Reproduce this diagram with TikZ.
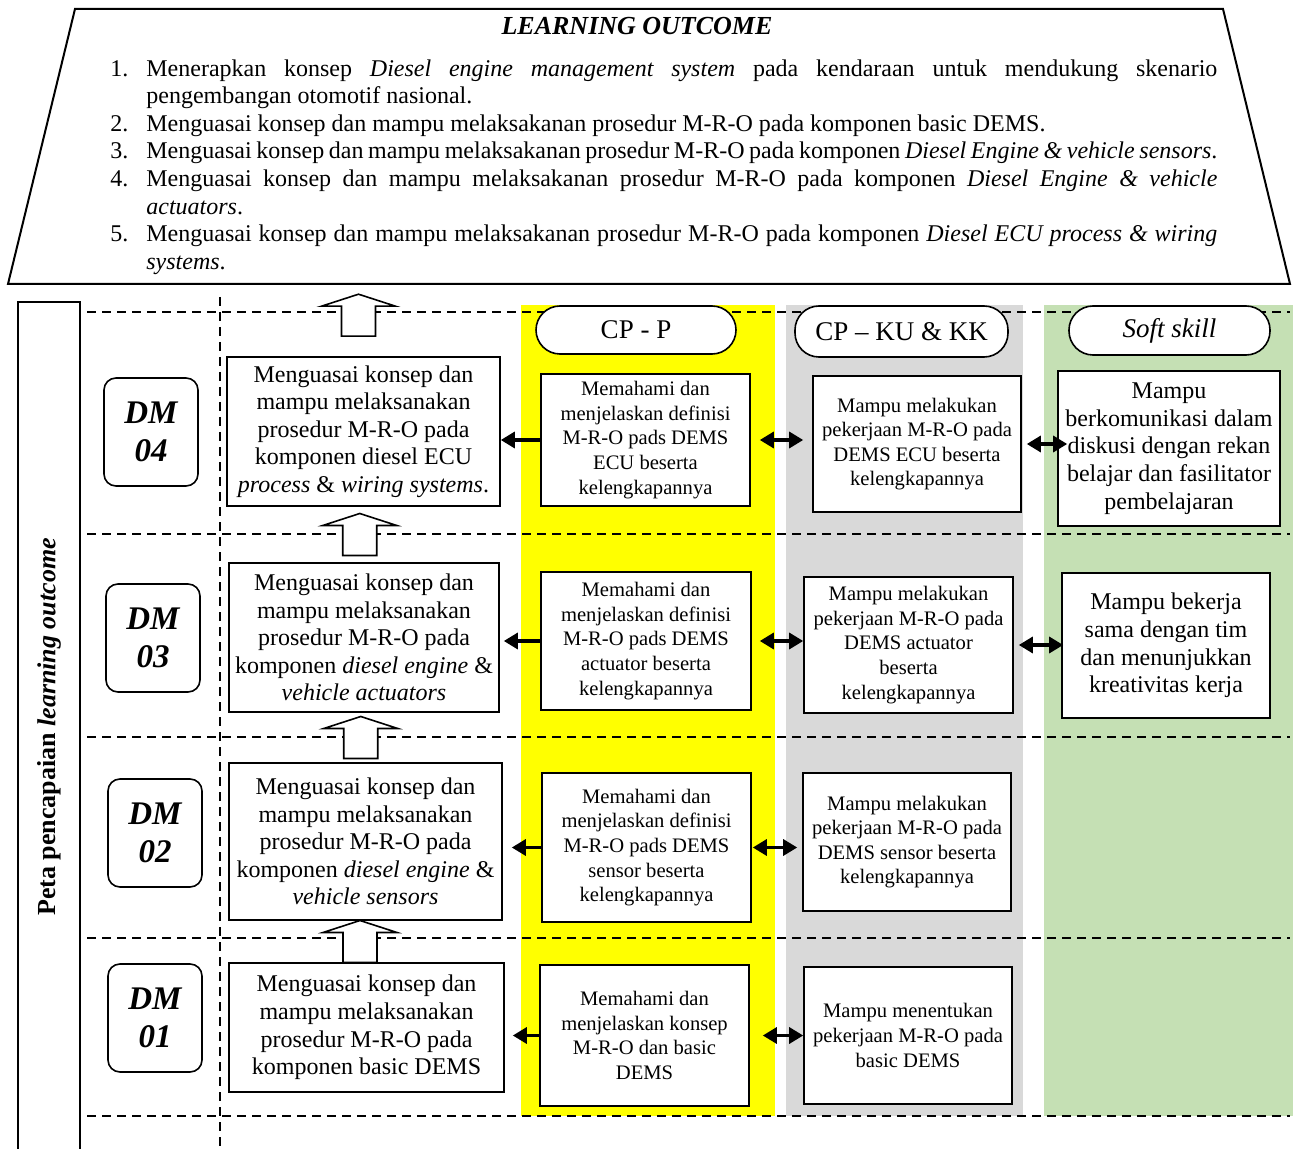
\documentclass[tikz,border=0pt]{standalone}
\usepackage{fontspec}
\setmainfont{Liberation Serif}
\usepackage{enumitem}
\usetikzlibrary{arrows.meta,calc}
\definecolor{cpyellow}{HTML}{FFFF00}
\definecolor{cpgray}{HTML}{D9D9D9}
\definecolor{cpgreen}{HTML}{C5E0B4}
\tikzstyle{lobox}=[rectangle,draw=black,fill=white,line width=0.8pt,align=center,inner sep=0pt,font=\fontsize{12}{13.8}\selectfont]
\tikzstyle{dmbox}=[rectangle,rounded corners=6pt,draw=black,fill=white,line width=0.8pt,align=center,inner sep=0pt,minimum width=47pt,minimum height=54pt,font=\fontsize{16.5}{19}\selectfont\bfseries\itshape]
\tikzstyle{cpbox}=[rectangle,draw=black,fill=white,line width=0.8pt,align=center,inner sep=0pt,font=\fontsize{10.3}{12.3}\selectfont]
\tikzstyle{headbox}=[rectangle,rounded corners=12pt,draw=black,fill=white,line width=0.8pt,inner sep=0pt,font=\fontsize{13.5}{16}\selectfont]
\tikzstyle{arr}=[-{Triangle[length=7pt,width=8pt]},line width=1.6pt]
\tikzstyle{darr}=[{Triangle[length=7pt,width=8pt]}-{Triangle[length=7pt,width=8pt]},line width=1.6pt]
\tikzstyle{grid}=[dash pattern=on 4.5pt off 3pt,line width=0.7pt]
\tikzset{blockup/.pic={\draw[fill=white,line width=0.8pt] (0,-21) -- (37,-9) -- (17,-9) -- (17,21) -- (-17,21) -- (-17,-9) -- (-37,-9) -- cycle;}}

\begin{document}
\begin{tikzpicture}[x=0.5pt,y=-0.5pt]
\useasboundingbox (0,0) rectangle (1299,1149);
  %Learning outcome
  \draw[line width=1pt] (8,284) -- (75,9) -- (1223,9) -- (1290,284) -- cycle;
  \node[font=\fontsize{13}{15}\selectfont\bfseries\itshape] (lotitle) at (637,26) {LEARNING OUTCOME};
  \node[anchor=north west,inner sep=0pt] (lolist) at (110,59) {\begin{minipage}{553.5pt}
    \fontsize{12}{13.8}\selectfont\hyphenpenalty=10000\exhyphenpenalty=10000\tolerance=9999
    \begin{enumerate}[nosep,leftmargin=18pt,labelwidth=9pt,labelsep=9pt,align=left,label=\arabic*.]
    \item Menerapkan konsep \textit{Diesel engine management system} pada kendaraan untuk mendukung skenario pengembangan otomotif nasional.
    \item Menguasai konsep dan mampu melaksakanan prosedur M-R-O pada komponen basic DEMS.
    \item Menguasai konsep dan mampu melaksakanan prosedur M-R-O pada komponen \textit{Diesel Engine \& vehicle sensors}.
    \item Menguasai konsep dan mampu melaksakanan prosedur M-R-O pada komponen \textit{Diesel Engine \& vehicle actuators}.
    \item Menguasai konsep dan mampu melaksakanan prosedur M-R-O pada komponen \textit{Diesel ECU process \& wiring systems}.
    \end{enumerate}
  \end{minipage}};

  %Columns
  \fill[cpyellow] (521,305) rectangle (775,1116);
  \fill[cpgray] (786,305) rectangle (1023,1116);
  \fill[cpgreen] (1044,305) rectangle (1293,1116);
  \foreach \y in {312,534,737,938,1116} \draw[grid] (87,\y) -- (1290,\y);
  \draw[grid] (220,297) -- (220,1149);
  \draw[line width=0.8pt] (18,1149) -- (18,302) -- (80,302) -- (80,1149);
  \node[rotate=90,font=\fontsize{13}{15}\selectfont\bfseries] (petalbl) at (49,727) {Peta pencapaian \textit{learning outcome}};

  %Nodes
  \node[headbox,minimum width=100pt,minimum height=24pt] (hcpp) at (636,330) {CP - P};
  \node[headbox,minimum width=106.5pt,minimum height=25.5pt] (hcpku) at (901.5,331.5) {CP -- KU \& KK};
  \node[headbox,minimum width=100.5pt,minimum height=24.5pt] (hsoft) at (1169.5,330.5) {\textit{Soft skill}};

  \node[dmbox] (dm4) at (151,432) {DM\\04};
  \node[dmbox] (dm3) at (153,638) {DM\\03};
  \node[dmbox] (dm2) at (155,833) {DM\\02};
  \node[dmbox] (dm1) at (155,1018) {DM\\01};

  \node[lobox,minimum width=136.5pt,minimum height=74.5pt] (lo4) at (363.5,431.5) {Menguasai konsep dan\\mampu melaksanakan\\prosedur M-R-O pada\\komponen diesel ECU\\\textit{process} \& \textit{wiring systems}.};
  \node[lobox,minimum width=135pt,minimum height=74.5pt] (lo3) at (364,637.5) {Menguasai konsep dan\\mampu melaksanakan\\prosedur M-R-O pada\\komponen \textit{diesel engine} \&\\\textit{vehicle actuators}};
  \node[lobox,minimum width=136.5pt,minimum height=78.5pt] (lo2) at (365.5,841.5) {Menguasai konsep dan\\mampu melaksanakan\\prosedur M-R-O pada\\komponen \textit{diesel engine} \&\\\textit{vehicle sensors}};
  \node[lobox,minimum width=137.5pt,minimum height=64.5pt] (lo1) at (366.5,1027.5) {Menguasai konsep dan\\mampu melaksanakan\\prosedur M-R-O pada\\komponen basic DEMS};

  \node[cpbox,minimum width=104.5pt,minimum height=66pt] (cpp4) at (645.5,440) {Memahami dan\\menjelaskan definisi\\M-R-O pads DEMS\\ECU beserta\\kelengkapannya};
  \node[cpbox,minimum width=105pt,minimum height=69pt] (cpp3) at (646,641) {Memahami dan\\menjelaskan definisi\\M-R-O pads DEMS\\actuator beserta\\kelengkapannya};
  \node[cpbox,minimum width=104.5pt,minimum height=74.5pt] (cpp2) at (646.5,847.5) {Memahami dan\\menjelaskan definisi\\M-R-O pads DEMS\\sensor beserta\\kelengkapannya};
  \node[cpbox,minimum width=104.5pt,minimum height=70.5pt] (cpp1) at (644.5,1035.5) {Memahami dan\\menjelaskan konsep\\M-R-O dan basic\\DEMS};

  \node[cpbox,minimum width=104pt,minimum height=68pt] (ku4) at (917,444) {Mampu melakukan\\pekerjaan M-R-O pada\\DEMS ECU beserta\\kelengkapannya};
  \node[cpbox,minimum width=104.5pt,minimum height=68pt] (ku3) at (908.5,645) {Mampu melakukan\\pekerjaan M-R-O pada\\DEMS actuator\\beserta\\kelengkapannya};
  \node[cpbox,minimum width=104pt,minimum height=69pt] (ku2) at (907,842) {Mampu melakukan\\pekerjaan M-R-O pada\\DEMS sensor beserta\\kelengkapannya};
  \node[cpbox,minimum width=104pt,minimum height=68.5pt] (ku1) at (908,1035.5) {Mampu menentukan\\pekerjaan M-R-O pada\\basic DEMS};

  \node[lobox,minimum width=111pt,minimum height=77.5pt] (ss4) at (1169,448.5) {Mampu\\berkomunikasi dalam\\diskusi dengan rekan\\belajar dan fasilitator\\pembelajaran};
  \node[lobox,minimum width=104pt,minimum height=72.5pt] (ss3) at (1166,645.5) {Mampu bekerja\\sama dengan tim\\dan menunjukkan\\kreativitas kerja};

  %Lines
  \pic at ($(lo4.north)+(-5,-41)$) {blockup};
  \pic at ($(lo3.north)!0.5!(lo4.south)+(-4,0)$) {blockup};
  \pic at ($(lo2.north)!0.5!(lo3.south)+(-4,0)$) {blockup};
  \pic at ($(lo1.north)!0.5!(lo2.south)+(-6,0)$) {blockup};

  \draw[arr] (cpp4.west) -- (cpp4.west -| lo4.east);
  \draw[arr,shorten >=2pt] (cpp3.west) -- (cpp3.west -| lo3.east);
  \draw[arr,shorten >=4.5pt] (cpp2.west) -- (cpp2.west -| lo2.east);
  \draw[arr,shorten >=4pt] (cpp1.west) -- (cpp1.west -| lo1.east);

  \draw[darr,shorten <=4.5pt,shorten >=4.5pt] (cpp4.east) -- (cpp4.east -| ku4.west);
  \draw[darr,shorten <=4pt] (cpp3.east) -- (cpp3.east -| ku3.west);
  \draw[darr,shorten <=0.5pt,shorten >=2.5pt] (cpp2.east) -- (cpp2.east -| ku2.west);
  \draw[darr,shorten <=6.5pt] (cpp1.east) -- (cpp1.east -| ku1.west);

  \draw[darr,shorten <=2.5pt,shorten >=-5pt] (ku4.east) -- (ku4.east -| ss4.west);
  \draw[darr,shorten <=2.5pt,shorten >=-1pt] (ku3.east) -- (ku3.east -| ss3.west);
\end{tikzpicture}
\end{document}
